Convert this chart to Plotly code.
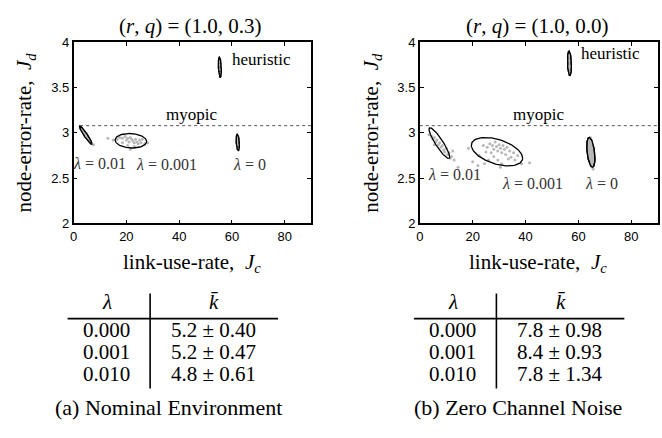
import numpy as np
import plotly.graph_objects as go

W, H = 662, 438

# ---------------- data ----------------
TITLES = ["(<i>r</i>, <i>q</i>) = (1.0, 0.3)", "(<i>r</i>, <i>q</i>) = (1.0, 0.0)"]
X_TICKS = [0, 20, 40, 60, 80]
Y_TICKS = [2, 2.5, 3, 3.5, 4]
X_RANGE = [0, 90]
Y_RANGE = [2, 4]
MYOPIC_J = 3.08
MYOPIC_START = [2.5, 0.0]

GROUPS = ["heuristic", "lambda=0", "lambda=0.001", "lambda=0.01"]
GROUP_LABELS = ["heuristic", "<i>λ</i> = 0", "<i>λ</i> = 0.001", "<i>λ</i> = 0.01"]

# confidence ellipses: centre, half-extent in x and y, correlation
A_CX = [55.4, 62.2, 21.7, 4.6]
A_CY = [3.726, 2.895, 2.913, 2.975]
A_SX = [0.55, 0.6, 5.97, 2.35]
A_SY = [0.112, 0.09, 0.08, 0.10]
A_RHO = [-0.3, -0.3, -0.1, -0.95]

B_CX = [56.6, 64.7, 29.2, 7.4]
B_CY = [3.769, 2.785, 2.792, 2.887]
B_SX = [0.75, 1.55, 9.7, 3.9]
B_SY = [0.135, 0.165, 0.157, 0.17]
B_RHO = [-0.2, -0.4, -0.45, -0.9]

# individual runs (grey dots)
A_DOTS_X = [55.3, 55.4, 55.5, 55.4, 55.6,
            62.2, 62.1, 62.3, 62.2, 62.4,
            15.0, 16.5, 17.5, 18.5, 19.5, 20.0, 20.5, 21.0, 21.5, 22.0, 22.5, 23.0, 23.5,
            24.0, 24.5, 25.0, 25.5, 27.0, 20.5, 21.5, 23.0, 18.5, 26.0, 28.0, 13.0,
            3.0, 3.5, 4.0, 4.5, 5.0, 5.5, 6.0, 6.5, 7.5]
A_DOTS_Y = [3.66, 3.70, 3.75, 3.79, 3.64,
            2.95, 2.91, 2.87, 2.83, 2.81,
            2.92, 2.93, 2.95, 2.94, 2.96, 2.92, 2.94, 2.90, 2.95, 2.93, 2.91, 2.89, 2.93,
            2.90, 2.88, 2.92, 2.89, 2.88, 2.86, 2.82, 2.85, 2.89, 2.93, 2.89, 2.94,
            3.04, 3.02, 3.00, 2.97, 2.95, 2.93, 2.91, 2.89, 2.87]

B_DOTS_X = [56.5, 56.6, 56.7, 56.6, 56.5, 56.7,
            64.5, 64.8, 64.3, 65.0, 64.6, 65.2, 64.4, 65.0, 64.8, 65.3, 65.6, 64.2, 65.1,
            18.4, 22.5, 24.0, 25.5, 26.5, 27.5, 28.0, 28.5, 29.0, 29.5, 30.0, 30.5, 31.0,
            31.5, 32.0, 32.5, 33.0, 34.0, 34.5, 35.5, 36.0, 27.0, 26.0, 24.5, 29.5, 31.0,
            38.5, 41.5, 30.5, 25.0, 28.0, 33.5, 37.0, 22.0, 20.0,
            3.5, 4.5, 5.0, 5.5, 6.0, 6.5, 7.0, 7.5, 8.0, 8.5, 9.0, 9.5, 10.0, 10.5, 11.0,
            12.0, 12.5, 13.0, 14.5, 5.5, 11.5]
B_DOTS_Y = [3.68, 3.74, 3.80, 3.86, 3.72, 3.65,
            2.95, 2.90, 2.86, 2.83, 2.80, 2.77, 2.74, 2.70, 2.66, 2.62, 2.60, 2.84, 2.88,
            2.83, 2.75, 2.86, 2.84, 2.88, 2.86, 2.82, 2.90, 2.85, 2.80, 2.87, 2.83, 2.78,
            2.86, 2.82, 2.76, 2.84, 2.80, 2.73, 2.78, 2.70, 2.78, 2.70, 2.66, 2.70, 2.66,
            2.66, 2.67, 2.62, 2.79, 2.74, 2.71, 2.75, 2.64, 2.68,
            2.98, 2.96, 2.93, 2.95, 2.90, 2.92, 2.87, 2.89, 2.84, 2.86, 2.81, 2.79, 2.83,
            2.76, 2.78, 2.74, 2.80, 2.70, 2.62, 2.87, 2.72]

# label positions (data coords)
A_LAB_X = [59.2, 66.8, 35.2, 10.0]
A_LAB_Y = [3.81, 2.646, 2.646, 2.664]
B_LAB_X = [60.2, 68.9, 42.7, 13.2]
B_LAB_Y = [3.88, 2.44, 2.44, 2.538]
MYOPIC_LAB_X = [44.5, 44.9]
MYOPIC_LAB_Y = [3.20, 3.20]

TABLE_LAMBDA = ["0.000", "0.001", "0.010"]
TABLE_KBAR_A = ["5.2 ± 0.40", "5.2 ± 0.47", "4.8 ± 0.61"]
TABLE_KBAR_B = ["7.8 ± 0.98", "8.4 ± 0.93", "7.8 ± 1.34"]
CAPTIONS = ["(a) Nominal Environment", "(b) Zero Channel Noise"]

# ---------------- styling ----------------
SERIF = "Liberation Serif"
SANS = "Liberation Sans"
FILLED = [True, True, False, True]
FILLED_B = [True, True, False, False]
GREY = "#b8b8b8"


def px_x(p):
    return p / W


def px_y(p):
    return 1 - p / H


fig = go.Figure()

panels = [
    dict(cx=A_CX, cy=A_CY, sx=A_SX, sy=A_SY, rho=A_RHO, dx=A_DOTS_X, dy=A_DOTS_Y,
         lx=A_LAB_X, ly=A_LAB_Y, filled=FILLED, xa="x", ya="y"),
    dict(cx=B_CX, cy=B_CY, sx=B_SX, sy=B_SY, rho=B_RHO, dx=B_DOTS_X, dy=B_DOTS_Y,
         lx=B_LAB_X, ly=B_LAB_Y, filled=FILLED_B, xa="x2", ya="y2"),
]

t = np.linspace(0, 2 * np.pi, 121)
annotations = []
for pi, p in enumerate(panels):
    # myopic line
    fig.add_trace(go.Scatter(x=[MYOPIC_START[pi], X_RANGE[1]], y=[MYOPIC_J, MYOPIC_J],
                             mode="lines", line=dict(color="#555555", width=1, dash="dot"),
                             xaxis=p["xa"], yaxis=p["ya"], hoverinfo="skip", showlegend=False))
    for gi in range(len(GROUPS)):
        r = p["rho"][gi]
        ex = p["cx"][gi] + p["sx"][gi] * np.cos(t)
        ey = p["cy"][gi] + p["sy"][gi] * (r * np.cos(t) + np.sqrt(1 - r * r) * np.sin(t))
        if p["filled"][gi]:
            fig.add_trace(go.Scatter(x=ex, y=ey, mode="lines", fill="toself", fillcolor=GREY,
                                     line=dict(color="black", width=1.3),
                                     xaxis=p["xa"], yaxis=p["ya"], hoverinfo="skip",
                                     showlegend=False))
    fig.add_trace(go.Scatter(x=p["dx"], y=p["dy"], mode="markers",
                             marker=dict(size=3, color=GREY),
                             xaxis=p["xa"], yaxis=p["ya"], hoverinfo="skip", showlegend=False))
    for gi in range(len(GROUPS)):
        r = p["rho"][gi]
        ex = p["cx"][gi] + p["sx"][gi] * np.cos(t)
        ey = p["cy"][gi] + p["sy"][gi] * (r * np.cos(t) + np.sqrt(1 - r * r) * np.sin(t))
        fig.add_trace(go.Scatter(x=ex, y=ey, mode="lines",
                                 line=dict(color="black", width=1.3),
                                 xaxis=p["xa"], yaxis=p["ya"], hoverinfo="skip",
                                 showlegend=False))
        annotations.append(dict(
            x=p["lx"][gi], y=p["ly"][gi], xref=p["xa"], yref=p["ya"],
            text=GROUP_LABELS[gi], showarrow=False,
            xanchor="left" if gi == 0 else "center", yanchor="middle",
            font=dict(family=SERIF, size=17 if gi == 0 else 16,
                      color="black" if gi == 0 else "#333333")))
    annotations.append(dict(x=MYOPIC_LAB_X[pi], y=MYOPIC_LAB_Y[pi], xref=p["xa"], yref=p["ya"],
                            text="myopic", showarrow=False, xanchor="center", yanchor="middle",
                            font=dict(family=SERIF, size=17, color="black")))

axis_common = dict(showgrid=False, zeroline=False, showline=True, linecolor="black",
                   linewidth=1.5, mirror="ticks", ticks="inside", ticklen=4, tickwidth=1,
                   tickcolor="black", tickfont=dict(family=SANS, size=13, color="black"),
                   fixedrange=True)

y_dom = [px_y(224), px_y(36.7)]
fig.update_layout(
    width=W, height=H, autosize=False,
    margin=dict(l=0, r=0, t=0, b=0),
    paper_bgcolor="white", plot_bgcolor="white",
    showlegend=False,
    xaxis=dict(domain=[px_x(70), px_x(309)], range=X_RANGE, tickvals=X_TICKS,
               anchor="y", **axis_common),
    yaxis=dict(domain=y_dom, range=Y_RANGE, tickvals=Y_TICKS, ticktext=[str(v) for v in Y_TICKS],
               anchor="x", **axis_common),
    xaxis2=dict(domain=[px_x(418.3), px_x(657.7)], range=X_RANGE, tickvals=X_TICKS,
                anchor="y2", **axis_common),
    yaxis2=dict(domain=y_dom, range=Y_RANGE, tickvals=Y_TICKS, ticktext=[str(v) for v in Y_TICKS],
                anchor="x2", **axis_common),
)

shapes = []
offsets = [0.0, 348.4]
TAB_FONT = 21
for pi in range(2):
    o = offsets[pi]
    cx_plot = [188.0, 537.0][pi]
    annotations.append(dict(x=px_x(cx_plot), y=px_y(20), xref="paper", yref="paper",
                            text=TITLES[pi], showarrow=False, xanchor="center", yanchor="middle",
                            font=dict(family=SERIF, size=21, color="black")))
    annotations.append(dict(x=px_x(189 + o), y=px_y(265), xref="paper", yref="paper",
                            text="link-use-rate,  <i>J<sub>c</sub></i>", showarrow=False,
                            xanchor="center", yanchor="middle",
                            font=dict(family=SERIF, size=21, color="black")))
    annotations.append(dict(x=px_x(21 + o), y=px_y(130), xref="paper", yref="paper",
                            text="node-error-rate,  <i>J<sub>d</sub></i>", showarrow=False,
                            textangle=-90, xanchor="center", yanchor="middle",
                            font=dict(family=SERIF, size=21, color="black")))
    # table
    kb = [TABLE_KBAR_A, TABLE_KBAR_B][pi]
    lam_x = 103.3 + o
    val_x = 210.5 + o
    annotations.append(dict(x=px_x(lam_x), y=px_y(305), xref="paper", yref="paper",
                            text="<i>λ</i>", showarrow=False, xanchor="center", yanchor="middle",
                            font=dict(family=SERIF, size=TAB_FONT, color="black")))
    annotations.append(dict(x=px_x(val_x + 1), y=px_y(305), xref="paper", yref="paper",
                            text="<i>k̄</i>", showarrow=False, xanchor="center", yanchor="middle",
                            font=dict(family=SERIF, size=TAB_FONT, color="black")))
    for ri, ry in enumerate([334.3, 357.3, 380.0]):
        annotations.append(dict(x=px_x(lam_x), y=px_y(ry), xref="paper", yref="paper",
                                text=TABLE_LAMBDA[ri], showarrow=False, xanchor="center",
                                yanchor="middle", font=dict(family=SERIF, size=TAB_FONT, color="black")))
        annotations.append(dict(x=px_x(val_x), y=px_y(ry), xref="paper", yref="paper",
                                text=kb[ri], showarrow=False, xanchor="center",
                                yanchor="middle", font=dict(family=SERIF, size=TAB_FONT, color="black")))
    shapes.append(dict(type="line", xref="paper", yref="paper",
                       x0=px_x(64 + o), x1=px_x(275.7 + o), y0=px_y(322.7), y1=px_y(322.7),
                       line=dict(color="black", width=1.6)))
    shapes.append(dict(type="line", xref="paper", yref="paper",
                       x0=px_x(147 + o), x1=px_x(147 + o), y0=px_y(296.7), y1=px_y(395),
                       line=dict(color="black", width=1.6)))
    annotations.append(dict(x=px_x([166, 516.7][pi]), y=px_y(415), xref="paper", yref="paper",
                            text=CAPTIONS[pi], showarrow=False, xanchor="center", yanchor="middle",
                            font=dict(family=SERIF, size=22, color="black")))

fig.update_layout(annotations=annotations, shapes=shapes)
fig.write_html("out.html", config={"displayModeBar": False},
               post_script="document.body.style.margin='0px';")
